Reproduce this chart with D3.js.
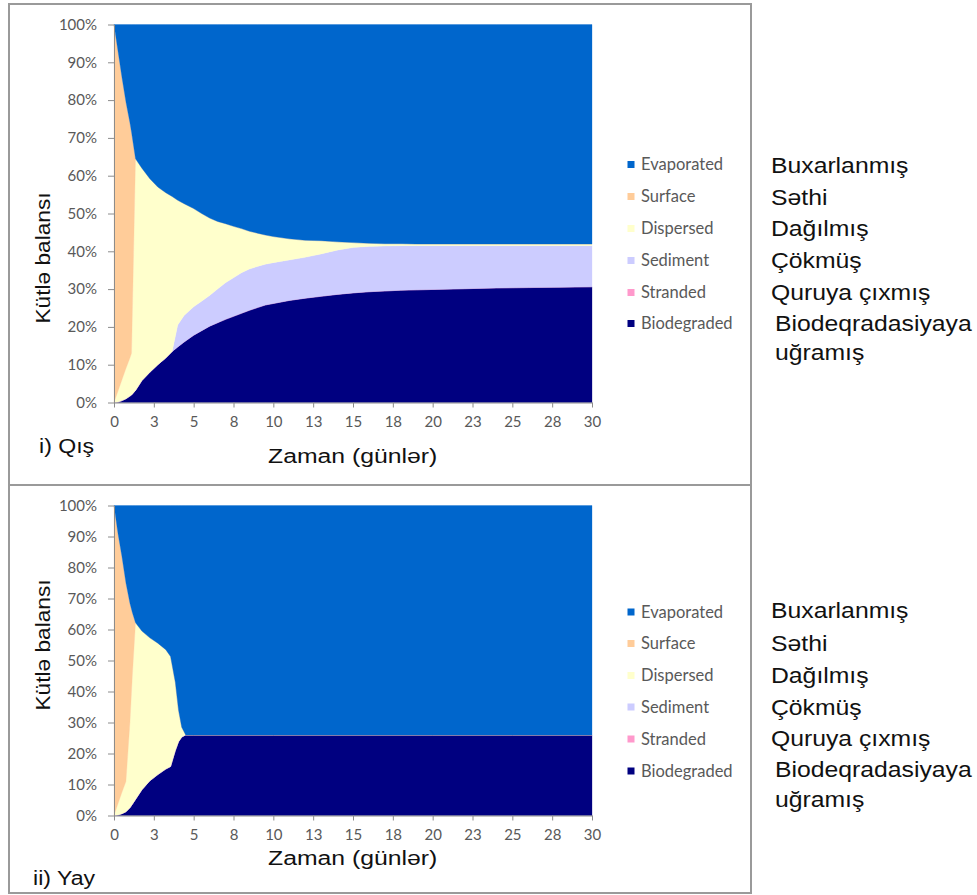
<!DOCTYPE html>
<html><head><meta charset="utf-8">
<script src="https://cdn.jsdelivr.net/npm/d3@7"></script>
<style>body{margin:0;background:#fff}</style>
</head><body>
<svg id="c" width="977" height="895"></svg>
<script>
// ---- shared labels ----
const seriesKeys = ["Biodegraded","Stranded","Sediment","Dispersed","Surface","Evaporated"]; // stack order bottom->top
const legendLabels = ["Evaporated","Surface","Dispersed","Sediment","Stranded","Biodegraded"];
const azLabels = ["Buxarlanmış","Səthi","Dağılmış","Çökmüş","Quruya çıxmış","Biodeqradasiyaya","uğramış"];
const seriesColors = ["#000080","#FF99CC","#CCCCFF","#FFFFCC","#FFCC99","#0066CC"];
const xTickValues = [0,2.5,5,7.5,10,12.5,15,17.5,20,22.5,25,27.5,30];
const xTickLabels = ["0","3","5","8","10","13","15","18","20","23","25","28","30"];
const yTickValues = [0,10,20,30,40,50,60,70,80,90,100];
const yTitle = "Kütlə balansı";
const xTitle = "Zaman (günlər)";
const panelTitles = ["i) Qış","ii) Yay"];

// ---- winter (i) ----
const winterDays = [0,0.25,0.5,0.75,1.0,1.1,1.35,1.75,2.25,2.75,3.25,3.65,4.0,4.4,5.0,5.5,6.0,6.5,7.0,7.5,8.0,8.5,9.0,9.5,10,11,12,13,14,15,16,17,18,19,20,22,24,26,28,30];
const winterBiodegraded = [0,0.1,0.5,1.0,1.7,2.0,3.2,5.8,8.0,10.0,11.8,13.5,14.7,16.0,17.8,19.0,20.2,21.1,22.0,22.8,23.6,24.4,25.1,25.8,26.2,27.0,27.6,28.1,28.6,29.0,29.3,29.5,29.7,29.8,29.9,30.1,30.3,30.4,30.5,30.6];
const winterStranded = [0,0,0,0,0,0,0,0,0,0,0,0,0,0,0,0,0,0,0,0,0,0,0,0,0,0,0,0,0,0,0,0,0,0,0,0,0,0,0,0];
const winterSediment = [0,0,0,0,0,0,0,0,0,0,0,0,5.8,7.0,7.5,7.8,8.1,8.9,9.7,10.2,10.7,10.9,10.9,10.8,10.8,10.7,10.8,11.2,11.7,12.0,12.0,11.9,11.8,11.7,11.6,11.4,11.2,11.1,11.0,10.9];
const winterDispersed = [0,2.9,5.5,8.0,10.1,11.0,61.3,56.2,51.2,47.0,43.7,41.0,33.0,29.6,26.0,23.2,20.5,17.9,15.6,13.6,11.7,10.0,8.8,7.7,6.9,5.6,4.5,3.5,2.2,1.3,0.8,0.6,0.5,0.4,0.4,0.4,0.4,0.4,0.4,0.4];
const winterSurface = [100,90,80,70.5,62.2,58.5,0,0,0,0,0,0,0,0,0,0,0,0,0,0,0,0,0,0,0,0,0,0,0,0,0,0,0,0,0,0,0,0,0,0];
const winterEvaporated = [0,7,14,20.5,26,28.5,35.5,38.0,40.8,43.0,44.5,45.5,46.5,47.4,48.7,50.0,51.2,52.1,52.7,53.4,54.0,54.7,55.2,55.7,56.1,56.7,57.1,57.2,57.5,57.7,57.9,58.0,58.0,58.1,58.1,58.1,58.1,58.1,58.1,58.1];

// ---- summer (ii) ----
const summerDays = [0,0.25,0.5,0.75,1.0,1.15,1.35,1.75,2.25,2.75,3.25,3.55,3.85,4.05,4.25,4.5,5,10,15,20,25,30];
const summerBiodegraded = [0,0.2,0.6,1.2,2.5,3.6,5.2,8.3,11.2,13.2,15.0,15.8,21.0,23.8,25.3,26,26,26,26,26,26,26];
const summerStranded = [0,0,0,0,0,0,0,0,0,0,0,0,0,0,0,0,0,0,0,0,0,0];
const summerSediment = [0,0,0,0,0,0,0,0,0,0,0,0,0,0,0,0,0,0,0,0,0,0];
const summerDispersed = [0,3.6,6.9,9.8,27.5,41.4,57.0,51.2,46.1,42.4,38.5,35.5,22.0,10.2,3.2,0,0,0,0,0,0,0];
const summerSurface = [100,87.2,76.0,64.0,38.5,20.5,0,0,0,0,0,0,0,0,0,0,0,0,0,0,0,0];
const summerEvaporated = [0,9,16.5,25,31.5,34.5,37.8,40.5,42.7,44.4,46.5,48.7,57.0,66.0,71.5,74,74,74,74,74,74,74];

function rows(days, cols){
  return days.map((d,i)=>{const r={day:d}; seriesKeys.forEach((k,j)=>r[k]=cols[j][i]); return r;});
}
const panels = [
  {data: rows(winterDays,[winterBiodegraded,winterStranded,winterSediment,winterDispersed,winterSurface,winterEvaporated]),
   top:4, bottom:485, plotTop:24.5, plotBottom:402.5, yTitleMid:258, xTitleY:463, panelTitleY:453, panelTitleX:39,
   legendY:[164.5,196.5,228.5,260.5,292.5,323.5], azY:[165,197,228,260,292,323,352]},
  {data: rows(summerDays,[summerBiodegraded,summerStranded,summerSediment,summerDispersed,summerSurface,summerEvaporated]),
   top:485, bottom:893, plotTop:505.5, plotBottom:815.5, yTitleMid:645, xTitleY:865, panelTitleY:885, panelTitleX:33,
   legendY:[612,643.5,675.5,707,739,771], azY:[610,643,675,707,738,769,799]}
];

const svg = d3.select("#c");
const plotLeft = 114, plotRight = 592;
const color = d3.scaleOrdinal().domain(seriesKeys).range(seriesColors);
const arial = "'Liberation Sans', Arial, sans-serif";

panels.forEach((p,pi)=>{
  // panel border
  svg.append("rect").attr("x",9).attr("y",p.top).attr("width",742).attr("height",p.bottom-p.top)
    .attr("fill","none").attr("stroke","#9a9a9a").attr("stroke-width",2);

  const x = d3.scaleLinear().domain([0,30]).range([plotLeft,plotRight]);
  const y = d3.scaleLinear().domain([0,100]).range([p.plotBottom,p.plotTop]);
  const layers = d3.stack().keys(seriesKeys)(p.data);
  const area = d3.area().x(d=>x(d.data.day)).y0(d=>y(d[0])).y1(d=>y(d[1]));
  svg.append("g").selectAll("path").data(layers).join("path")
    .attr("d",area).attr("fill",d=>color(d.key)).attr("stroke",d=>color(d.key)).attr("stroke-width",0.3);

  const yAxis = d3.axisLeft(y).tickValues(yTickValues).tickFormat(d=>d+"%").tickSize(6).tickSizeOuter(0).tickPadding(11);
  const gy = svg.append("g").attr("transform",`translate(${plotLeft},0)`).call(yAxis);
  const xAxis = d3.axisBottom(x).tickValues(xTickValues).tickFormat((d,i)=>xTickLabels[i]).tickSize(5).tickSizeOuter(0).tickPadding(9);
  const gx = svg.append("g").attr("transform",`translate(0,${p.plotBottom})`).call(xAxis);
  [gx,gy].forEach(g=>{
    g.select(".domain").attr("stroke","#8c8c8c");
    g.selectAll(".tick line").attr("stroke","#8c8c8c");
    g.selectAll(".tick text").attr("fill","#595959").style("font-family","Lato, 'Open Sans', sans-serif").style("font-size","15px");
  });

  // axis titles
  svg.append("text").attr("transform",`translate(50,${p.yTitleMid}) rotate(-90) scale(1.08,1)`).attr("text-anchor","middle")
    .style("font-family",arial).style("font-size","21px").attr("fill","#111").text(yTitle);
  svg.append("text").attr("transform",`translate(268,${p.xTitleY}) scale(1.18,1)`).attr("text-anchor","start")
    .style("font-family",arial).style("font-size","21px").attr("fill","#111").text(xTitle);
  svg.append("text").attr("transform",`translate(${p.panelTitleX},${p.panelTitleY}) scale(1.1,1)`)
    .style("font-family",arial).style("font-size","21px").attr("fill","#111").text(panelTitles[pi]);

  // legend
  legendLabels.forEach((k,i)=>{
    svg.append("rect").attr("x",627.5).attr("y",p.legendY[i]-3.5).attr("width",7).attr("height",7).attr("fill",color(k));
    svg.append("text").attr("x",641).attr("y",p.legendY[i]).attr("dy","0.35em")
      .style("font-family","Lato, 'Open Sans', sans-serif").style("font-size","16.5px").attr("fill","#595959").text(k);
  });
  // azerbaijani labels
  azLabels.forEach((t,i)=>{
    svg.append("text").attr("transform",`translate(${i>=5?775:771},${p.azY[i]}) scale(1.1,1)`).attr("dy","0.35em")
      .style("font-family",arial).style("font-size","22.5px").attr("fill","#111").text(t);
  });
});
</script>
</body></html>
